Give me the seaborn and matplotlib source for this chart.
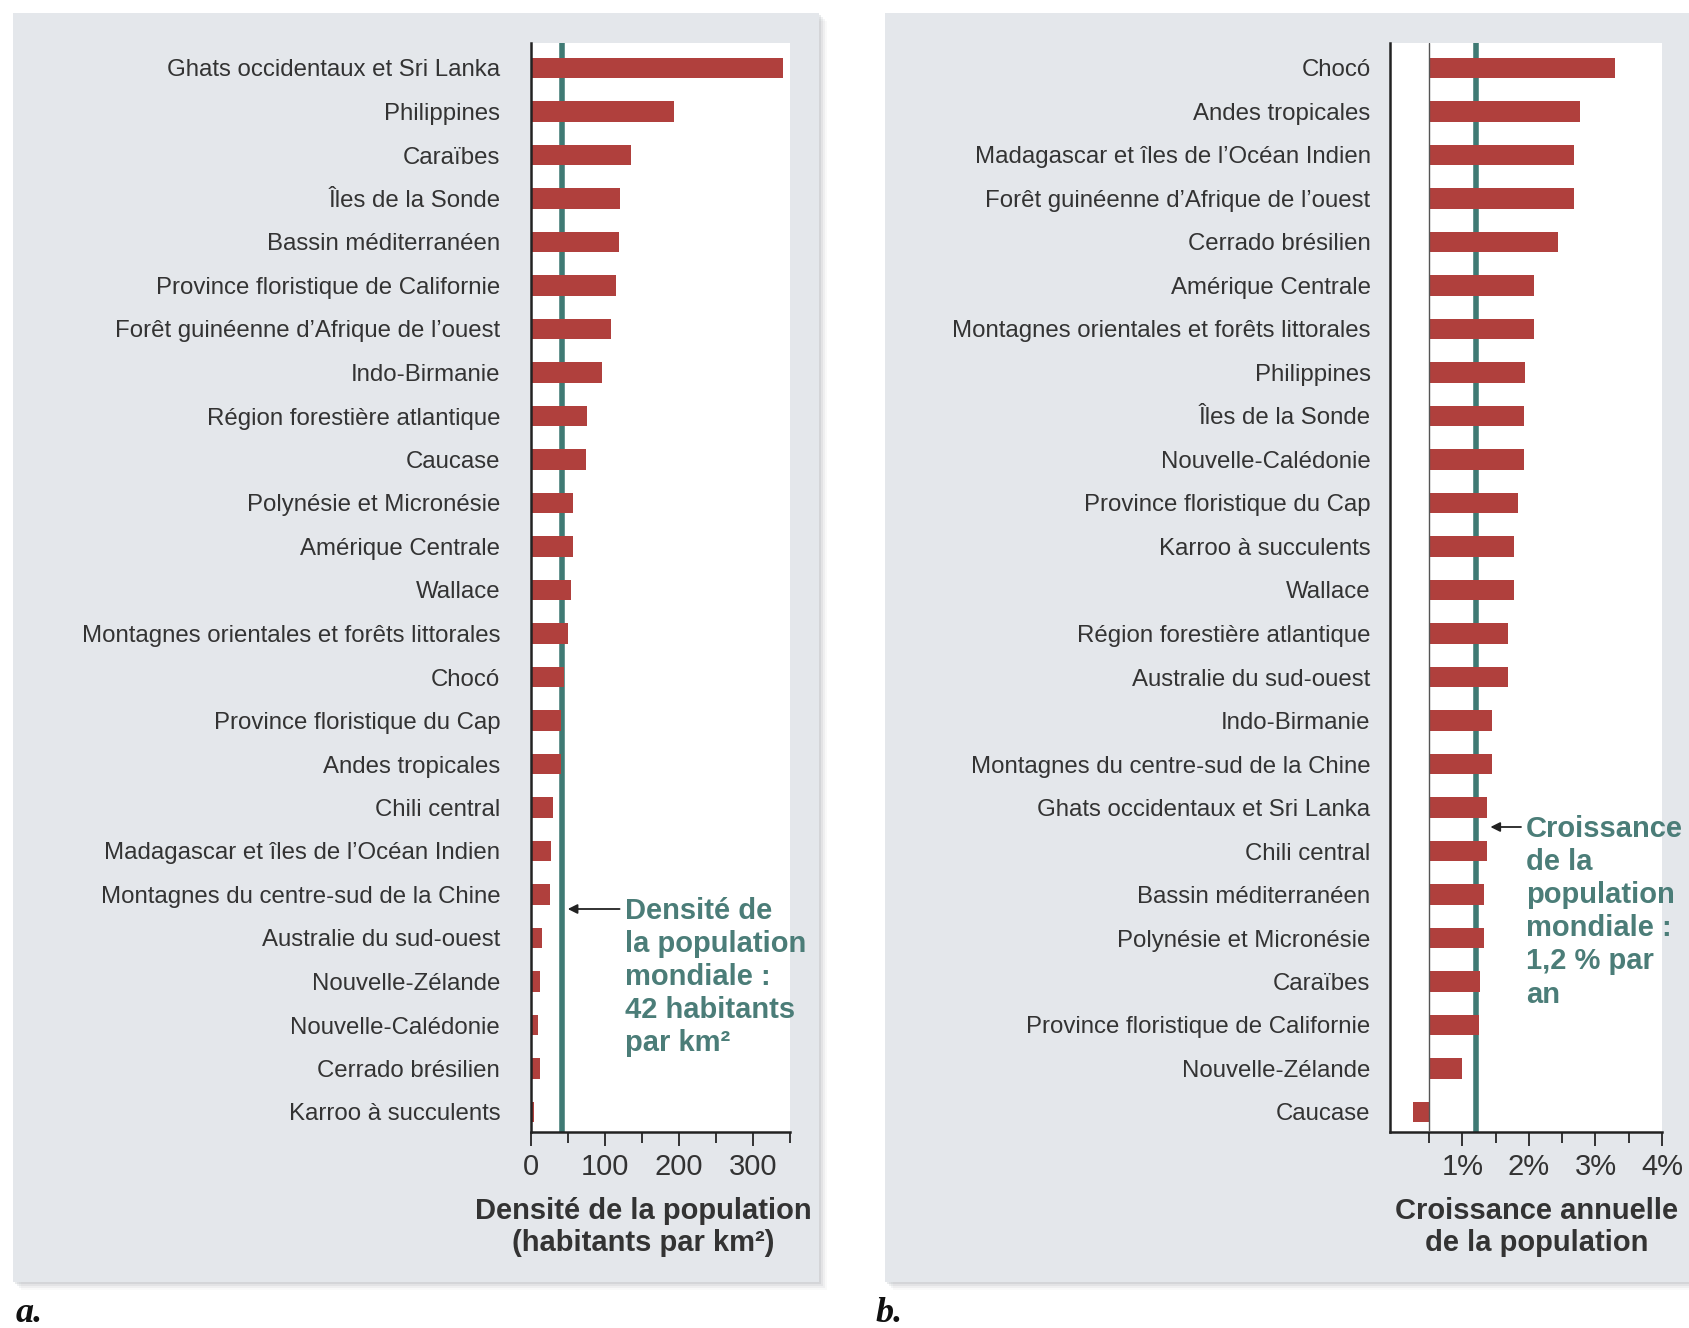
import matplotlib
matplotlib.use("Agg")
import matplotlib.pyplot as plt
from matplotlib.patches import Rectangle
from matplotlib.ticker import FixedLocator
import seaborn as sns

# Panel a: population density in the biodiversity hotspots (inhabitants per km²)
regions_density = [
    "Ghats occidentaux et Sri Lanka", "Philippines", "Caraïbes", "Îles de la Sonde",
    "Bassin méditerranéen", "Province floristique de Californie",
    "Forêt guinéenne d’Afrique de l’ouest", "Indo-Birmanie", "Région forestière atlantique",
    "Caucase", "Polynésie et Micronésie", "Amérique Centrale", "Wallace",
    "Montagnes orientales et forêts littorales", "Chocó", "Province floristique du Cap",
    "Andes tropicales", "Chili central", "Madagascar et îles de l’Océan Indien",
    "Montagnes du centre-sud de la Chine", "Australie du sud-ouest", "Nouvelle-Zélande",
    "Nouvelle-Calédonie", "Cerrado brésilien", "Karroo à succulents",
]
density = [340, 194, 135, 121, 119, 115, 108, 96, 76, 75, 57, 57, 55,
           50, 45, 41, 41, 30, 27, 26, 15, 13, 10, 12, 4]
world_density = 42
density_labelled_ticks = [0, 100, 200, 300]
density_all_ticks = [0, 50, 100, 150, 200, 250, 300, 350]
density_max = 350

# Panel b: annual population growth rate (%)
regions_growth = [
    "Chocó", "Andes tropicales", "Madagascar et îles de l’Océan Indien",
    "Forêt guinéenne d’Afrique de l’ouest", "Cerrado brésilien", "Amérique Centrale",
    "Montagnes orientales et forêts littorales", "Philippines", "Îles de la Sonde",
    "Nouvelle-Calédonie", "Province floristique du Cap", "Karroo à succulents", "Wallace",
    "Région forestière atlantique", "Australie du sud-ouest", "Indo-Birmanie",
    "Montagnes du centre-sud de la Chine", "Ghats occidentaux et Sri Lanka", "Chili central",
    "Bassin méditerranéen", "Polynésie et Micronésie", "Caraïbes",
    "Province floristique de Californie", "Nouvelle-Zélande", "Caucase",
]
growth = [3.30, 2.77, 2.67, 2.67, 2.43, 2.07, 2.07, 1.94, 1.93, 1.93, 1.83, 1.78, 1.78,
          1.69, 1.69, 1.45, 1.45, 1.37, 1.37, 1.32, 1.32, 1.26, 1.25, 1.00, 0.26]
world_growth = 1.2
growth_labelled_ticks = [1, 2, 3, 4]
growth_all_ticks = [0.5, 1.0, 1.5, 2.0, 2.5, 3.0, 3.5, 4.0]
growth_base = 0.5      # the bars grow from this rate
growth_min, growth_max = -0.09, 4.0

BAR = "#b0403d"
TEAL = "#3f7a74"
TEAL_TEXT = "#4b7d78"
TEXT = "#333333"
PANEL = "#e4e7eb"

sns.set_style("white")
plt.rcParams["font.family"] = ["Liberation Sans", "DejaVu Sans"]

W, H = 1689, 1328
fig = plt.figure(figsize=(W / 100, H / 100), dpi=100)
fig.patch.set_facecolor("white")


def fx(px):
    return px / W


def fy(py):
    return 1 - py / H


# grey panels with a soft shadow
for x0, x1 in [(13, 819), (885, 1700)]:
    for k, a in [(8, 0.06), (6, 0.10), (4, 0.14), (2, 0.2)]:
        fig.patches.append(Rectangle((fx(x0 + k), fy(1282 + k)), fx(x1 - x0), (1282 - 13) / H,
                                     transform=fig.transFigure, facecolor="#9aa0a8",
                                     alpha=a, edgecolor="none", zorder=-3))
    fig.patches.append(Rectangle((fx(x0), fy(1282)), fx(x1 - x0), (1282 - 13) / H,
                                 transform=fig.transFigure, facecolor=PANEL,
                                 edgecolor="none", zorder=-2))

top_px, bottom_px = 43, 1132
n = len(regions_density)
row0_px, row_step = 68, 43.5
y_lo = n - 1 + (bottom_px - (row0_px + (n - 1) * row_step)) / row_step
y_hi = -(row0_px - top_px) / row_step

ax_a = fig.add_axes([fx(530.7), fy(bottom_px), fx(790 - 530.7), (bottom_px - top_px) / H])
ax_b = fig.add_axes([fx(1390), fy(bottom_px), fx(1662 - 1390), (bottom_px - top_px) / H])

# ---- panel a ----
sns.barplot(x=density, y=regions_density, orient="h", color=BAR, width=0.46,
            linewidth=0, saturation=1, ax=ax_a, zorder=2)
ax_a.axvline(world_density, color=TEAL, lw=4, zorder=1)
ax_a.set_xlim(0, density_max)
ax_a.xaxis.set_major_locator(FixedLocator(density_labelled_ticks))
ax_a.xaxis.set_minor_locator(FixedLocator([t for t in density_all_ticks
                                           if t not in density_labelled_ticks]))
ax_a.set_xticklabels([str(t) for t in density_labelled_ticks])
ax_a.tick_params(axis="y", length=0, pad=22, labelsize=17.3, labelcolor=TEXT)

# ---- panel b (bars drawn relative to the 0.5 % origin) ----
sns.barplot(x=[g - growth_base for g in growth], y=regions_growth, orient="h", color=BAR,
            width=0.46, linewidth=0, saturation=1, ax=ax_b, zorder=2)
ax_b.axvline(world_growth - growth_base, color=TEAL, lw=4, zorder=1)
ax_b.axvline(0, color="#555555", lw=1, zorder=3)
ax_b.set_xlim(growth_min - growth_base, growth_max - growth_base)
ax_b.xaxis.set_major_locator(FixedLocator([t - growth_base for t in growth_labelled_ticks]))
ax_b.xaxis.set_minor_locator(FixedLocator([t - growth_base for t in growth_all_ticks
                                           if t not in growth_labelled_ticks]))
ax_b.set_xticklabels([f"{t}%" for t in growth_labelled_ticks])
ax_b.tick_params(axis="y", length=0, pad=14, labelsize=17.3, labelcolor=TEXT)

for ax in (ax_a, ax_b):
    ax.set_facecolor("white")
    ax.set_ylim(y_lo, y_hi)
    ax.set_xlabel("")
    ax.set_ylabel("")
    for s in ("top", "right"):
        ax.spines[s].set_visible(False)
    for s in ("left", "bottom"):
        ax.spines[s].set_color("#222222")
        ax.spines[s].set_linewidth(1.8)
    ax.tick_params(axis="x", which="major", length=10, width=1.4, color="#333333",
                   pad=5, labelsize=21, labelcolor=TEXT, direction="out", bottom=True)
    ax.tick_params(axis="x", which="minor", length=8, width=1.4, color="#333333",
                   direction="out", bottom=True)

# world reference annotations
row_a = (909 - row0_px) / row_step
ax_a.annotate("", xy=(world_density + 8, row_a), xytext=(world_density + 78, row_a),
              arrowprops=dict(arrowstyle="-|>", color="#222222", lw=1.3,
                              mutation_scale=14, shrinkA=0, shrinkB=0))
ax_a.text(world_density + 85, row_a - 0.27,
          "Densité de\nla population\nmondiale :\n42 habitants\npar km²",
          ha="left", va="top", fontsize=21, fontweight="bold", color=TEAL_TEXT,
          linespacing=1.23)

row_b = (827 - row0_px) / row_step
ax_b.annotate("", xy=(world_growth - growth_base + 0.22, row_b),
              xytext=(world_growth - growth_base + 0.68, row_b),
              arrowprops=dict(arrowstyle="-|>", color="#222222", lw=1.3,
                              mutation_scale=14, shrinkA=0, shrinkB=0))
ax_b.text(world_growth - growth_base + 0.75, row_b - 0.27,
          "Croissance\nde la\npopulation\nmondiale :\n1,2 % par\nan",
          ha="left", va="top", fontsize=21, fontweight="bold", color=TEAL_TEXT,
          linespacing=1.23)

# axis titles
fig.text(fx(643), fy(1227), "Densité de la population\n(habitants par km²)",
         ha="center", va="center", fontsize=21, fontweight="bold", color=TEXT,
         linespacing=1.2)
fig.text(fx(1537), fy(1227), "Croissance annuelle\nde la population",
         ha="center", va="center", fontsize=21, fontweight="bold", color=TEXT,
         linespacing=1.2)

# panel letters
for x, letter in [(16, "a."), (876, "b.")]:
    fig.text(fx(x), fy(1314), letter, ha="left", va="center", fontsize=26,
             fontweight="bold", fontstyle="italic", family="Liberation Serif",
             color="#111111")

fig.savefig("out.png", dpi=100, facecolor="white")
